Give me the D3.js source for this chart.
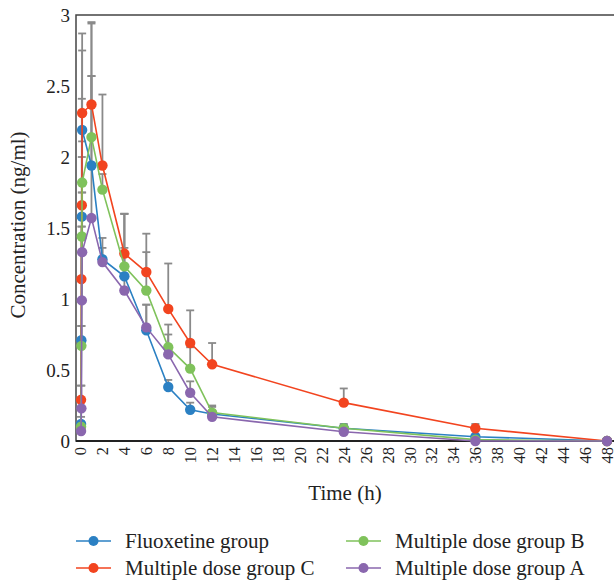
<!DOCTYPE html>
<html>
<head>
<meta charset="utf-8">
<script src="https://cdn.jsdelivr.net/npm/d3@7"></script>
<style>
  body { margin: 0; background: #fff; }
  svg text { font-family: "Liberation Serif", "DejaVu Serif", serif; fill: #222; }
</style>
</head>
<body>
<svg width="614" height="582"></svg>
<script>
const svg = d3.select("svg");

// sampling times (h); the first four are a few minutes after dosing
const times = [0.05, 0.08, 0.12, 0.15, 1, 2, 4, 6, 8, 10, 12, 24, 36, 48];
const xTicks = d3.range(0, 49, 2);
const yTicks = [0, 0.5, 1, 1.5, 2, 2.5, 3];

const seriesNames = ["Fluoxetine group", "Multiple dose group C", "Multiple dose group B", "Multiple dose group A"];
const seriesColors = ["#2b80c3", "#f2441f", "#7fc25b", "#8a67ae"];

const fluoxetine = [0.12, 0.71, 1.58, 2.19, 1.94, 1.28, 1.16, 0.78, 0.38, 0.22, 0.19, 0.09, 0.03, 0.00];
const groupC     = [0.29, 1.14, 1.66, 2.31, 2.37, 1.94, 1.32, 1.19, 0.93, 0.69, 0.54, 0.27, 0.09, 0.00];
const groupB     = [0.10, 0.67, 1.44, 1.82, 2.14, 1.77, 1.23, 1.06, 0.66, 0.51, 0.20, 0.09, 0.01, 0.00];
const groupA     = [0.07, 0.23, 0.99, 1.33, 1.57, 1.26, 1.06, 0.80, 0.61, 0.34, 0.17, 0.065, 0.00, 0.00];

const fluoxetineErr = [0.05, 0.10, 0.42, 0.56, 0.63, 0.15, 0.44, 0.18, 0.05, 0.05, 0.05, 0.02, 0.01, 0];
const groupCErr     = [0.10, 0.37, 0.75, 0.56, 0.58, 0.50, 0.28, 0.27, 0.32, 0.23, 0.15, 0.10, 0.03, 0];
const groupBErr     = [0.03, 0.14, 0.31, 0.29, 0.80, 0.11, 0.37, 0.27, 0.16, 0.15, 0.05, 0.03, 0.01, 0];
const groupAErr     = [0.02, 0.16, 0.52, 0.42, 1.00, 0.10, 0.30, 0.16, 0.14, 0.08, 0.03, 0.02, 0.01, 0];

const seriesValues = [fluoxetine, groupC, groupB, groupA];
const seriesErrors = [fluoxetineErr, groupCErr, groupBErr, groupAErr];

const serif = '"Liberation Serif", "DejaVu Serif", serif';

const x = d3.scaleLinear().domain([0, 48]).range([80.5, 607]);
const y = d3.scaleLinear().domain([0, 3]).range([441, 15]);

// plot frame
svg.append("rect")
  .attr("x", 76).attr("y", 15)
  .attr("width", 560).attr("height", 426)
  .attr("fill", "none")
  .attr("stroke", "#444")
  .attr("stroke-width", 1.5);

// y axis labels
const yAxis = svg.append("g")
  .attr("transform", "translate(76,0)")
  .attr("font-family", serif)
  .call(d3.axisLeft(y).tickValues(yTicks).tickSize(0).tickPadding(6).tickFormat(d3.format("")));
yAxis.select(".domain").remove();
yAxis.selectAll("text")
  .style("font-family", serif)
  .style("font-size", "19px")
  .attr("fill", "#222");

// x axis
const xAxis = svg.append("g")
  .attr("transform", "translate(0,441)")
  .attr("font-family", serif)
  .call(d3.axisBottom(x).tickValues(xTicks).tickSize(0).tickPadding(0));
xAxis.select(".domain").attr("d", "M76,0H614").attr("stroke", "#222").attr("stroke-width", 2.2);
xAxis.selectAll("text")
  .style("font-family", serif)
  .style("font-size", "16.5px")
  .attr("fill", "#222")
  .attr("text-anchor", "end")
  .attr("transform", "rotate(-90)")
  .attr("x", -6)
  .attr("y", 0)
  .attr("dy", "0.33em");

// axis titles
svg.append("text")
  .attr("x", 345).attr("y", 500)
  .attr("text-anchor", "middle")
  .style("font-size", "21px")
  .text("Time (h)");

svg.append("text")
  .attr("transform", "translate(25,225) rotate(-90)")
  .attr("text-anchor", "middle")
  .style("font-size", "21px")
  .text("Concentration (ng/ml)");

// error bars (upper only)
const errG = svg.append("g");
seriesValues.forEach((vals, s) => {
  vals.forEach((v, i) => {
    const e = seriesErrors[s][i];
    if (e <= 0) return;
    const cx = x(times[i]);
    errG.append("line")
      .attr("x1", cx).attr("x2", cx)
      .attr("y1", y(v)).attr("y2", y(v + e))
      .attr("stroke", "#8a8a8a").attr("stroke-width", 1.8);
    errG.append("line")
      .attr("x1", cx - 4).attr("x2", cx + 4)
      .attr("y1", y(v + e)).attr("y2", y(v + e))
      .attr("stroke", "#8a8a8a").attr("stroke-width", 1.8);
  });
});

// lines and markers
const line = d3.line()
  .x((d, i) => x(times[i]))
  .y(d => y(d));

seriesValues.forEach((vals, s) => {
  const g = svg.append("g");
  g.append("path")
    .attr("d", line(vals))
    .attr("fill", "none")
    .attr("stroke", seriesColors[s])
    .attr("stroke-width", 1.6);
  g.selectAll("circle")
    .data(vals)
    .join("circle")
    .attr("cx", (d, i) => x(times[i]))
    .attr("cy", d => y(d))
    .attr("r", 5.2)
    .attr("fill", seriesColors[s]);
});

// legend: two columns, row-major order Fluoxetine, B / C, A
const legendOrder = [0, 2, 1, 3];
legendOrder.forEach((s, k) => {
  const col = k % 2, row = Math.floor(k / 2);
  const lx = 76 + col * 270, ly = 541 + row * 27;
  const lg = svg.append("g").attr("transform", `translate(${lx},${ly})`);
  lg.append("line")
    .attr("x1", 0).attr("x2", 35)
    .attr("stroke", seriesColors[s]).attr("stroke-width", 1.6);
  lg.append("circle")
    .attr("cx", 17.5).attr("r", 5)
    .attr("fill", seriesColors[s]);
  lg.append("text")
    .attr("x", 49).attr("dy", "0.35em")
    .style("font-size", "21px")
    .text(seriesNames[s]);
});
</script>
</body>
</html>
